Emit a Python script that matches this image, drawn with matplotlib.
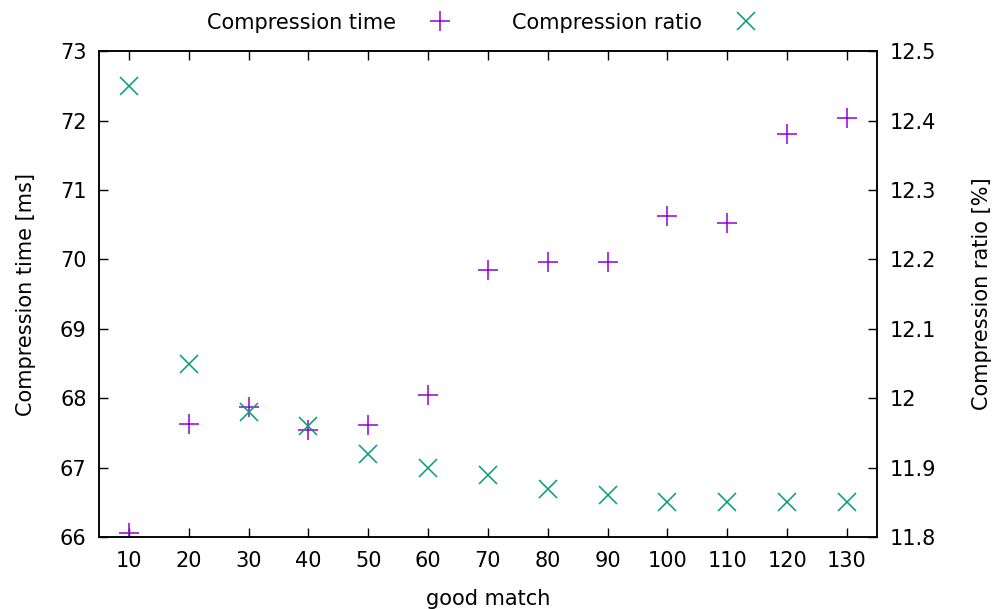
import numpy as np
import matplotlib.pyplot as plt

# good match values
good_match = [10, 20, 30, 40, 50, 60, 70, 80, 90, 100, 110, 120, 130]
# compression time [ms]
comp_time = [66.06, 67.63, 67.87, 67.55, 67.61, 68.05, 69.85, 69.97, 69.97, 70.63, 70.53, 71.80, 72.03]
# compression ratio [%]
comp_ratio = [12.45, 12.05, 11.98, 11.96, 11.92, 11.90, 11.89, 11.87, 11.86, 11.85, 11.85, 11.85, 11.85]

y1_ticks = [66, 67, 68, 69, 70, 71, 72, 73]
y2_ticks = [11.8, 11.9, 12.0, 12.1, 12.2, 12.3, 12.4, 12.5]
y2_labels = ["11.8", "11.9", "12", "12.1", "12.2", "12.3", "12.4", "12.5"]

plt.rcParams['font.family'] = ['DejaVu Sans']
plt.rcParams['font.size'] = 15

fig, ax = plt.subplots(figsize=(9.92, 6.09), dpi=100)
fig.subplots_adjust(left=0.0998, right=0.884, top=0.916, bottom=0.118)
ax2 = ax.twinx()

p1, = ax.plot(good_match, comp_time, linestyle='none', marker='+', markersize=14,
              markeredgewidth=1.1, color='#9400D3', label='Compression time')
p2, = ax2.plot(good_match, comp_ratio, linestyle='none', marker='x', markersize=13,
               markeredgewidth=1.1, color='#009E73', label='Compression ratio')

ax.set_xlim(5, 135)
ax.set_ylim(66, 73)
ax2.set_ylim(11.8, 12.5)
ax.set_xticks(good_match)
ax.set_yticks(y1_ticks)
ax2.set_yticks(y2_ticks)
ax2.set_yticklabels(y2_labels)

ax.tick_params(axis='x', direction='in', length=6.5, width=1, top=True, pad=10)
ax.tick_params(axis='y', direction='in', length=6.5, width=1, pad=9)
ax2.tick_params(axis='y', direction='in', length=6.5, width=1, pad=9)
for a in (ax, ax2):
    for s in a.spines.values():
        s.set_linewidth(1.1)

ax.set_xlabel('good match', labelpad=13)
ax.set_ylabel('Compression time [ms]', labelpad=17)
ax2.set_ylabel('Compression ratio [%]', labelpad=26)

fig.legend([p1, p2], ['Compression time', 'Compression ratio'], loc='upper center',
           bbox_to_anchor=(0.488, 1.01), ncol=2, frameon=False, markerfirst=False,
           columnspacing=2.7, handlelength=1.5, handletextpad=1.37)

fig.savefig('out.png', dpi=100)
